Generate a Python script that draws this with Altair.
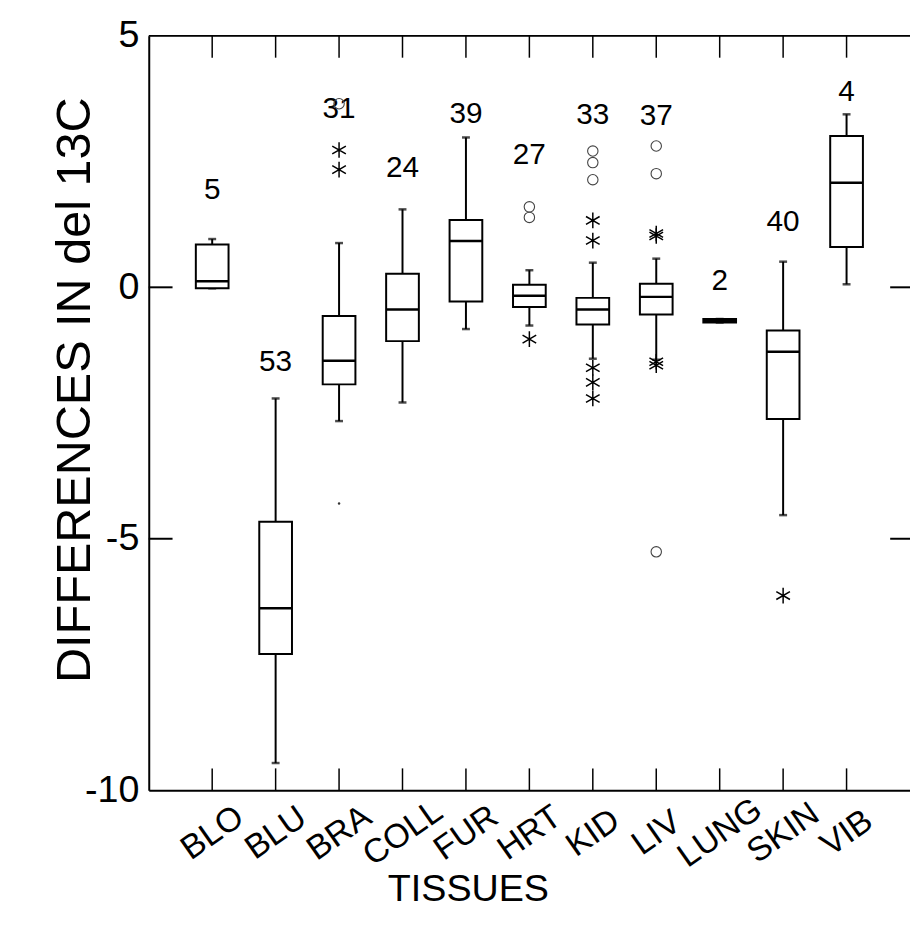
import altair as alt
import pandas as pd

# ---- data ----
tissues = ["BLO", "BLU", "BRA", "COLL", "FUR", "HRT", "KID", "LIV", "LUNG", "SKIN", "VIB"]
counts = [5, 53, 31, 24, 39, 27, 33, 37, 2, 40, 4]
whisker_low = [-0.02, -9.46, -2.66, -2.29, -0.83, -0.76, -1.42, -1.44, -0.70, -4.53, 0.06]
q1 = [-0.02, -7.29, -1.93, -1.07, -0.28, -0.39, -0.74, -0.54, -0.70, -2.62, 0.80]
median = [0.12, -6.38, -1.46, -0.44, 0.92, -0.17, -0.44, -0.19, -0.67, -1.28, 2.08]
q3 = [0.85, -4.66, -0.57, 0.27, 1.34, 0.05, -0.21, 0.07, -0.63, -0.86, 3.01]
whisker_high = [0.96, -2.21, 0.88, 1.55, 2.98, 0.34, 0.49, 0.57, -0.63, 0.51, 3.44]
count_label_at = [1.93, -1.49, 3.54, 2.38, 3.45, 2.63, 3.42, 3.41, 0.12, 1.29, 3.89]

star_tissue = ["BRA", "BRA", "HRT", "KID", "KID", "KID", "KID", "KID", "LIV", "LIV", "LIV", "LIV", "SKIN"]
star_value = [2.73, 2.34, -1.03, 1.33, 0.93, -1.60, -1.89, -2.21, 1.07, 1.02, -1.48, -1.55, -6.13]
circle_tissue = ["BRA", "HRT", "HRT", "KID", "KID", "KID", "LIV", "LIV", "LIV"]
circle_value = [3.65, 1.60, 1.39, 2.71, 2.48, 2.14, 2.81, 2.26, -5.26]
speck_tissue = ["BRA"]
speck_value = [-4.30]

y_ticks = [-10, -5, 0, 5]
inner_ticks = [0, -5]

FONT = "Liberation Sans"
W, H = 768, 761

box_df = pd.DataFrame({
    "tissue": tissues, "n": counts, "lo": whisker_low, "q1": q1,
    "med": median, "q3": q3, "hi": whisker_high, "lab": count_label_at,
})
star_df = pd.DataFrame({"tissue": star_tissue, "v": star_value})
circle_df = pd.DataFrame({"tissue": circle_tissue, "v": circle_value})
speck_df = pd.DataFrame({"tissue": speck_tissue, "v": speck_value})
tick_df = pd.DataFrame({"v": inner_ticks})
cat_df = pd.DataFrame({"tissue": tissues})

xscale = alt.Scale(type="point", domain=tissues, padding=1)
yscale = alt.Scale(domain=[-10, 5], nice=False, zero=False)

xaxis = alt.Axis(
    title="TISSUES", labelAngle=-35, labelAlign="center", labelBaseline="middle",
    labelPadding=43, labelFontSize=34, labelFont=FONT, labelColor="black",
    ticks=False, tickSize=0, domain=True, domainWidth=2, domainColor="black",
    grid=False, titleFont=FONT, titleFontSize=38, titleFontWeight="normal",
    titleColor="black", titleX=322, titleY=111, titleAlign="center",
    titleBaseline="alphabetic", labelOverlap=False,
)
yaxis = alt.Axis(
    values=y_ticks, ticks=False, tickSize=0, labelPadding=10, labelFontSize=38,
    labelFont=FONT, labelColor="black", labelFlush=False, labelOverlap=False,
    labelExpr="toString(datum.value)",
    domain=True, domainWidth=2, domainColor="black", grid=False,
    title="DIFFERENCES IN del 13C", titleFont=FONT, titleFontSize=49,
    titleFontWeight="normal", titleColor="black", titleAngle=270,
    titleX=-60, titleY=357, titleAlign="center", titleBaseline="alphabetic",
)


def X():
    return alt.X("tissue:N", scale=xscale, axis=xaxis, sort=tissues)


def Y(field):
    return alt.Y(f"{field}:Q", scale=yscale, axis=yaxis)


base = alt.Chart(box_df)

whisk_up = base.mark_rule(color="black", strokeWidth=2).encode(x=X(), y=Y("q3"), y2="hi:Q")
whisk_dn = base.mark_rule(color="black", strokeWidth=2).encode(x=X(), y=Y("lo"), y2="q1:Q")
cap_hi = base.mark_tick(color="black", size=8, thickness=2.5, orient="horizontal").encode(x=X(), y=Y("hi"))
cap_lo = base.mark_tick(color="black", size=8, thickness=2.5, orient="horizontal").encode(x=X(), y=Y("lo"))
boxes = base.mark_bar(size=33, fill="white", stroke="black", strokeWidth=2).encode(
    x=X(), y=Y("q1"), y2="q3:Q")
meds = base.mark_tick(color="black", size=33, thickness=2.5, orient="horizontal", opacity=1).encode(
    x=X(), y=Y("med"))
labels = base.mark_text(font=FONT, fontSize=30, color="black", baseline="middle").encode(
    x=X(), y=Y("lab"), text="n:Q")

star_path = "M0,-1L0,1M-0.87,-0.5L0.87,0.5M-0.87,0.5L0.87,-0.5"
stars = alt.Chart(star_df).mark_point(
    shape=star_path, size=250, filled=False, stroke="black", strokeWidth=1.5, opacity=1
).encode(x=X(), y=Y("v"))
circles = alt.Chart(circle_df).mark_point(
    shape="circle", size=110, filled=False, stroke="#444", strokeWidth=1.1, opacity=1
).encode(x=X(), y=Y("v"))
specks = alt.Chart(speck_df).mark_point(
    shape="circle", size=6, filled=True, color="#333", opacity=1
).encode(x=X(), y=Y("v"))

# frame: top line and inward ticks
top_line = alt.Chart(pd.DataFrame({"a": [0]})).mark_rule(color="black", strokeWidth=2).encode(
    x=alt.value(0), x2=alt.value(W), y=alt.value(0))
top_ticks = alt.Chart(cat_df).mark_rule(color="black", strokeWidth=1.5).encode(
    x=X(), y=alt.value(0), y2=alt.value(22))
bot_ticks = alt.Chart(cat_df).mark_rule(color="black", strokeWidth=1.5).encode(
    x=X(), y=alt.value(H - 22), y2=alt.value(H))
left_ticks = alt.Chart(tick_df).mark_rule(color="black", strokeWidth=2).encode(
    y=Y("v"), x=alt.value(0), x2=alt.value(24))
right_ticks = alt.Chart(tick_df).mark_rule(color="black", strokeWidth=2).encode(
    y=Y("v"), x=alt.value(W - 20), x2=alt.value(W))

chart = alt.layer(
    top_line, top_ticks, bot_ticks, left_ticks, right_ticks,
    whisk_up, whisk_dn, cap_hi, cap_lo, boxes, meds, labels, stars, circles, specks,
).properties(
    width=W, height=H,
    autosize=alt.AutoSizeParams(type="none"),
    padding={"left": 142, "top": 24, "right": 0, "bottom": 145},
).configure_view(stroke=None).configure(background="white")

chart.save("out.html", embed_options={"renderer": "svg", "actions": False})
